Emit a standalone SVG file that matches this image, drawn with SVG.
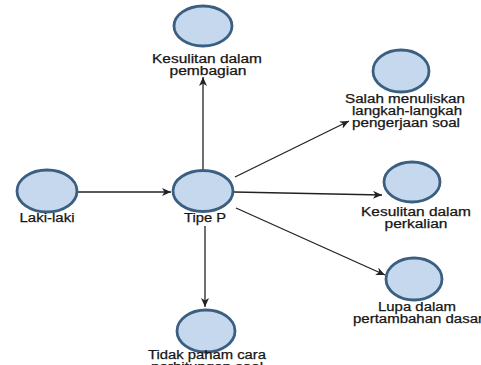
<svg xmlns="http://www.w3.org/2000/svg" width="481" height="365" viewBox="0 0 481 365">
<style>
.bg{fill:#ffffff}
.node ellipse{fill:#c6d8ee;stroke:#3a5f80;stroke-width:2.8}
.node text{font-family:"Liberation Sans",Arial,sans-serif;font-size:12.5px;fill:#151515;stroke:#151515;stroke-width:0.25;text-anchor:middle}
.edges line{stroke:#222222;stroke-width:1.3;fill:none;marker-end:url(#arr)}
</style>
<defs>
<marker id="arr" markerUnits="userSpaceOnUse" markerWidth="10" markerHeight="8" refX="9" refY="4" orient="auto">
<path d="M0,0 L9,4 L0,8 L2.5,4 z" fill="#222222"/>
</marker>
</defs>
<rect class="bg" x="0" y="0" width="481" height="365"/>
<g id="edges" class="edges">
<line x1="78" y1="192" x2="171" y2="192"/>
<line x1="203" y1="170" x2="203" y2="77"/>
<line x1="235" y1="177" x2="349" y2="121"/>
<line x1="234" y1="192" x2="382" y2="195"/>
<line x1="236" y1="208" x2="385" y2="275"/>
<line x1="205" y1="226" x2="205" y2="307"/>
</g>
<g id="node-laki" class="node">
<ellipse cx="47" cy="191" rx="30" ry="21"/>
<text x="47" y="222" textLength="55" lengthAdjust="spacingAndGlyphs">Laki-laki</text>
</g>
<g id="node-tipep" class="node">
<ellipse cx="203" cy="191" rx="30" ry="20.5"/>
<text x="205" y="222" textLength="42" lengthAdjust="spacingAndGlyphs">Tipe P</text>
</g>
<g id="node-pembagian" class="node">
<ellipse cx="203" cy="26" rx="29" ry="20"/>
<text x="207" y="63" textLength="110" lengthAdjust="spacingAndGlyphs">Kesulitan dalam</text>
<text x="208" y="75" textLength="77" lengthAdjust="spacingAndGlyphs">pembagian</text>
</g>
<g id="node-salah" class="node">
<ellipse cx="401" cy="71" rx="28" ry="21"/>
<text x="405" y="103" textLength="120" lengthAdjust="spacingAndGlyphs">Salah menuliskan</text>
<text x="407" y="115" textLength="110" lengthAdjust="spacingAndGlyphs">langkah-langkah</text>
<text x="406" y="127" textLength="108" lengthAdjust="spacingAndGlyphs">pengerjaan soal</text>
</g>
<g id="node-perkalian" class="node">
<ellipse cx="412" cy="182" rx="28" ry="20"/>
<text x="416" y="216" textLength="110" lengthAdjust="spacingAndGlyphs">Kesulitan dalam</text>
<text x="416" y="228" textLength="63" lengthAdjust="spacingAndGlyphs">perkalian</text>
</g>
<g id="node-lupa" class="node">
<ellipse cx="414" cy="279" rx="28" ry="21"/>
<text x="417" y="311" textLength="78" lengthAdjust="spacingAndGlyphs">Lupa dalam</text>
<text x="418" y="323" textLength="130" lengthAdjust="spacingAndGlyphs">pertambahan dasar</text>
</g>
<g id="node-tidak" class="node">
<ellipse cx="206" cy="331" rx="29" ry="21"/>
<text x="207" y="359" textLength="118" lengthAdjust="spacingAndGlyphs">Tidak paham cara</text>
<text x="207" y="371" textLength="112" lengthAdjust="spacingAndGlyphs">perhitungan soal</text>
</g>
</svg>
